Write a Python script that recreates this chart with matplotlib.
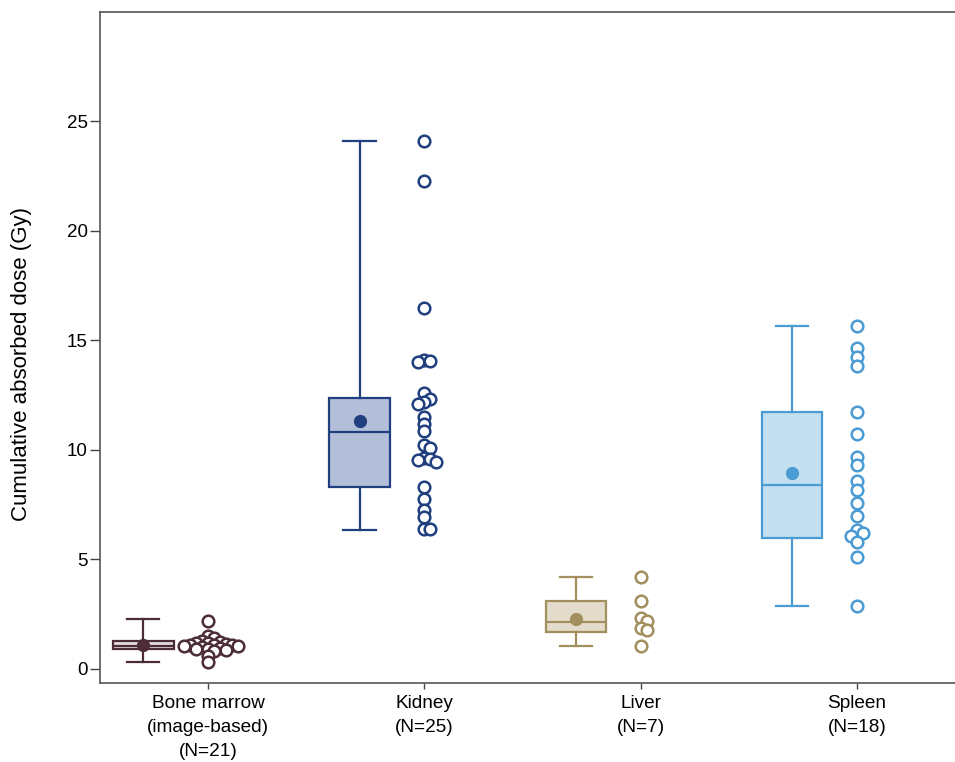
import matplotlib
matplotlib.use('Agg')
import matplotlib.pyplot as plt
import numpy as np

plt.rcParams['font.family'] = ['Liberation Sans', 'DejaVu Sans']

labels = ['Bone marrow\n(image-based)\n(N=21)', 'Kidney\n(N=25)', 'Liver\n(N=7)', 'Spleen\n(N=18)']

bone_marrow = [2.2, 1.5, 1.4, 1.3, 1.25, 1.2, 1.2, 1.15, 1.1, 1.1, 1.1,
               1.05, 1.05, 1.0, 0.95, 0.9, 0.9, 0.85, 0.8, 0.6, 0.3]
kidney = [24.1, 22.3, 16.5, 14.13, 14.05, 14.0, 12.58, 12.35, 12.2, 12.08, 11.5,
          11.2, 10.86, 10.22, 10.07, 9.62, 9.6, 9.53, 9.45, 8.32, 7.74, 7.28,
          6.95, 6.37, 6.37]
liver = [4.2, 3.1, 2.35, 2.2, 1.85, 1.8, 1.05]
spleen = [15.65, 14.66, 14.25, 13.82, 11.74, 10.75, 9.69, 9.31, 8.58, 8.17,
          7.59, 6.98, 6.34, 6.2, 6.08, 5.81, 5.12, 2.87]

# box summaries (q1, median, q3, whisker low, whisker high, mean)
q1 = [0.90, 8.30, 1.70, 5.99]
med = [1.05, 10.81, 2.14, 8.39]
q3 = [1.29, 12.36, 3.12, 11.74]
wlo = [0.32, 6.34, 1.05, 2.87]
whi = [2.26, 24.09, 4.20, 15.65]
means = [1.10, 11.31, 2.28, 8.97]

edge_colors = ['#4b2c37', '#1f3f7f', '#a38f5d', '#4a9bd3']
fill_colors = ['#e6dde1', '#b3bed9', '#e4dccb', '#c3dff0']
groups = [bone_marrow, kidney, liver, spleen]


def swarm_offsets(values, ax, center, diam=6.0, step=6.0):
    # loose beeswarm in pixel space (points may overlap), returns x in data units
    trans = ax.transData
    ys = np.array([trans.transform((center, v))[1] for v in values])
    x0 = trans.transform((center, 0))[0]
    order = np.argsort(-ys)
    placed = []
    offs = np.zeros(len(values))
    for i in order:
        k = 0
        while True:
            cands = [0.0] if k == 0 else [k * step, -k * step]
            done = False
            for c in cands:
                ok = all((c - px) ** 2 + (ys[i] - py) ** 2 >= diam ** 2 for px, py in placed)
                if ok:
                    offs[i] = c
                    placed.append((c, ys[i]))
                    done = True
                    break
            if done:
                break
            k += 1
    inv = trans.inverted()
    return np.array([inv.transform((x0 + o, 0))[0] for o in offs])


fig = plt.figure(figsize=(9.55, 7.62), dpi=100)
ax = fig.add_axes([100 / 955, 1 - 683 / 762, 855 / 955, (683 - 12) / 762])
ax.set_xlim(-0.5, 3.453)
ax.set_ylim(-0.64, 30)

for i in range(4):
    stats = [dict(med=med[i], q1=q1[i], q3=q3[i], whislo=wlo[i], whishi=whi[i],
                  mean=means[i], fliers=[])]
    c = edge_colors[i]
    ax.bxp(stats, positions=[i - 0.3], widths=0.28, capwidths=0.15,
           patch_artist=True, showmeans=True, manage_ticks=False,
           boxprops=dict(facecolor=fill_colors[i], edgecolor=c, linewidth=1.6),
           medianprops=dict(color=c, linewidth=1.6),
           whiskerprops=dict(color=c, linewidth=1.6),
           capprops=dict(color=c, linewidth=1.6),
           meanprops=dict(marker='o', markerfacecolor=c, markeredgecolor=c, markersize=8.5))

fig.canvas.draw()
for i, vals in enumerate(groups):
    xs = swarm_offsets(vals, ax, i)
    ax.scatter(xs, vals, s=70, facecolors='white', edgecolors=edge_colors[i],
               linewidths=1.8, zorder=3)

ax.set_xticks(range(4))
ax.set_xticklabels(labels, fontsize=13.7, linespacing=1.5)
ax.set_yticks([0, 5, 10, 15, 20, 25])
ax.tick_params(axis='y', labelsize=13.5, length=7, width=1, color='#444444', pad=2)
ax.tick_params(axis='x', length=4, width=1, color='#444444', pad=5)
ax.set_ylabel('Cumulative absorbed dose (Gy)', fontsize=16)
ax.yaxis.set_label_coords(-0.08, 0.475)

for s in ['left', 'top', 'bottom']:
    ax.spines[s].set_color('#555555')
    ax.spines[s].set_linewidth(1.2)
ax.spines['right'].set_visible(False)

plt.savefig('out.png', dpi=100)
